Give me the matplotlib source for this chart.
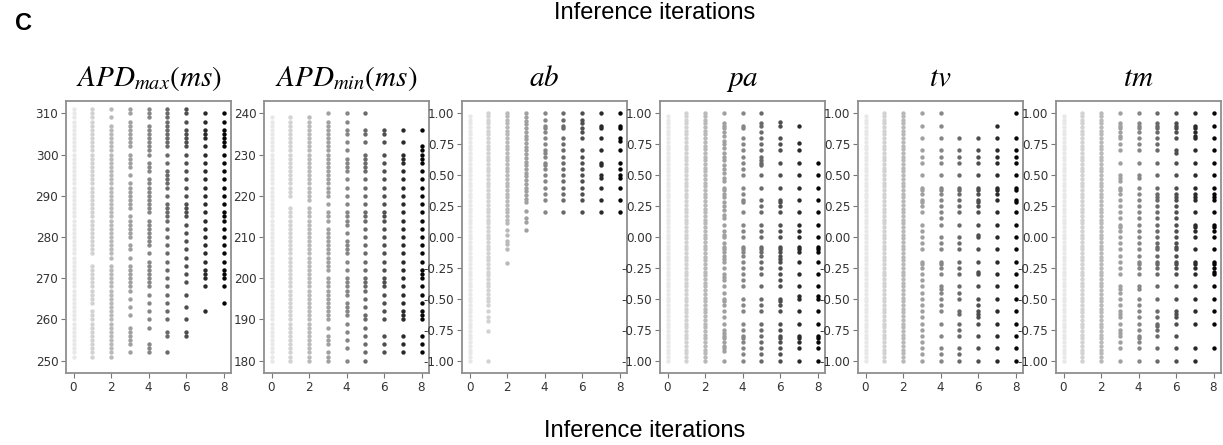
import matplotlib
matplotlib.use("Agg")
import matplotlib.pyplot as plt
from matplotlib import font_manager
import numpy as np

plt.rcParams['mathtext.fontset'] = 'stix'

# ---------------- data ----------------
iterations = [0, 1, 2, 3, 4, 5, 6, 7, 8]
titles = [r'$APD_{max}(ms)$', r'$APD_{min}(ms)$', r'$ab$', r'$pa$', r'$tv$', r'$tm$']

# dense, nearly continuous columns on the [-1, 1] scale
full_range = [-1.00, -0.97, -0.94, -0.91, -0.88, -0.85, -0.82, -0.79, -0.76, -0.73, -0.70, -0.67,
              -0.64, -0.61, -0.58, -0.55, -0.52, -0.49, -0.46, -0.43, -0.40, -0.37, -0.34, -0.31,
              -0.28, -0.25, -0.22, -0.19, -0.16, -0.13, -0.10, -0.07, -0.04, -0.01, 0.02, 0.05,
              0.08, 0.11, 0.14, 0.17, 0.20, 0.23, 0.26, 0.29, 0.32, 0.35, 0.38, 0.41, 0.44, 0.47,
              0.50, 0.53, 0.56, 0.59, 0.62, 0.65, 0.68, 0.71, 0.74, 0.77, 0.80, 0.83, 0.86, 0.89,
              0.92, 0.95, 0.98]
full_range_top = full_range + [1.00]

apdmax_c0 = list(range(251, 312))
apdmax_c1 = list(range(251, 263)) + list(range(264, 274)) + list(range(276, 312))
apdmax_c2 = list(range(251, 274)) + list(range(275, 308)) + [309, 311]
apdmax_c3 = [311, 310, 308, 307, 306, 305, 304, 303, 302, 300, 299, 298, 297, 295, 293, 292, 291, 290,
             289, 288, 287, 285, 284, 283, 282, 281, 280, 278, 277, 275, 273, 272, 271, 270, 269, 268,
             267, 265, 263, 261, 258, 257, 256, 255, 254, 252]
apdmax_c4 = [311, 310, 309, 307, 306, 305, 304, 303, 302, 301, 300, 298, 297, 296, 294, 293, 292, 291,
             290, 289, 288, 287, 286, 284, 283, 282, 281, 280, 279, 278, 276, 274, 273, 272, 271, 270,
             269, 268, 266, 264, 262, 260, 258, 254, 253, 252]
apdmax_c5 = [311, 310, 309, 308, 307, 306, 305, 304, 303, 302, 300, 298, 296, 295, 294, 293, 292, 290,
             288, 287, 286, 285, 284, 282, 280, 278, 276, 274, 272, 270, 268, 266, 264, 262, 260, 257,
             256, 252]
apdmax_c6 = [311, 310, 308, 306, 305, 304, 303, 302, 300, 298, 296, 294, 292, 290, 288, 287, 286, 285,
             283, 281, 279, 277, 275, 273, 271, 269, 266, 263, 260, 257, 256]
apdmax_c7 = [310, 308, 306, 305, 304, 302, 300, 298, 296, 294, 292, 290, 288, 286, 284, 282, 280, 278,
             276, 274, 272, 271, 270, 268, 262]
apdmax_c8 = [310, 308, 306, 305, 304, 303, 302, 300, 298, 296, 294, 292, 290, 288, 286, 285, 284, 282,
             280, 278, 276, 274, 272, 271, 270, 268, 264]
APDMAX = [apdmax_c0, apdmax_c1, apdmax_c2, apdmax_c3, apdmax_c4, apdmax_c5, apdmax_c6, apdmax_c7, apdmax_c8]

apdmin_c0 = list(range(180, 240))
apdmin_c1 = list(range(180, 218)) + list(range(220, 240))
apdmin_c2 = list(range(180, 218)) + list(range(219, 240))
apdmin_c3 = [240, 238, 237, 236, 235, 234, 233, 232, 231, 230, 229, 228, 227, 226, 225, 224, 223, 222,
             221, 220, 218, 216, 215, 214, 212, 211, 210, 209, 208, 207, 206, 205, 204, 203, 202, 200,
             199, 198, 197, 196, 195, 194, 193, 192, 191, 190, 188, 186, 185, 184, 182, 181, 180]
apdmin_c4 = [240, 238, 236, 235, 233, 231, 229, 228, 227, 226, 224, 222, 220, 218, 216, 215, 214, 213,
             211, 209, 208, 207, 206, 204, 202, 200, 199, 198, 197, 196, 194, 193, 192, 191, 189, 187,
             185, 183, 180]
apdmin_c5 = [240, 236, 235, 233, 230, 229, 228, 227, 226, 224, 222, 220, 218, 216, 215, 214, 212, 210,
             208, 206, 204, 202, 200, 199, 198, 197, 195, 193, 191, 190, 188, 186, 184, 182, 180]
apdmin_c6 = [236, 235, 233, 230, 228, 226, 224, 222, 220, 218, 216, 215, 214, 212, 210, 208, 206, 204,
             202, 200, 199, 198, 196, 194, 192, 190, 186, 184, 182]
apdmin_c7 = [236, 233, 230, 229, 228, 226, 224, 222, 220, 218, 216, 214, 212, 210, 208, 206, 204, 202,
             200, 198, 196, 194, 192, 191, 190, 186, 184, 182]
apdmin_c8 = [236, 232, 231, 230, 229, 228, 226, 224, 222, 220, 218, 216, 214, 212, 210, 208, 206, 204,
             202, 201, 200, 198, 196, 194, 192, 191, 190, 186, 184, 182]
APDMIN = [apdmin_c0, apdmin_c1, apdmin_c2, apdmin_c3, apdmin_c4, apdmin_c5, apdmin_c6, apdmin_c7, apdmin_c8]

ab_c1 = [1.00, 0.98, 0.95, 0.92, 0.89, 0.86, 0.83, 0.80, 0.77, 0.74, 0.71, 0.68, 0.65, 0.62, 0.59, 0.56,
         0.53, 0.50, 0.47, 0.44, 0.41, 0.38, 0.35, 0.32, 0.29, 0.26, 0.23, 0.20, 0.17, 0.14, 0.11, 0.08,
         0.05, 0.02, -0.01, -0.04, -0.07, -0.10, -0.13, -0.16, -0.19, -0.22, -0.25, -0.28, -0.31, -0.34,
         -0.37, -0.40, -0.43, -0.46, -0.49, -0.52, -0.55, -0.60, -0.65, -0.68, -0.76, -1.00]
ab_c2 = [1.00, 0.98, 0.95, 0.92, 0.89, 0.86, 0.83, 0.80, 0.77, 0.74, 0.71, 0.68, 0.65, 0.62, 0.59, 0.56,
         0.53, 0.50, 0.47, 0.44, 0.41, 0.38, 0.35, 0.32, 0.29, 0.26, 0.23, 0.20, 0.17, 0.14, 0.11, 0.06,
         0.02, -0.03, -0.06, -0.10, -0.21]
ab_c3 = [1.00, 0.97, 0.94, 0.91, 0.88, 0.85, 0.82, 0.79, 0.76, 0.73, 0.70, 0.67, 0.64, 0.61, 0.58, 0.55,
         0.52, 0.49, 0.46, 0.43, 0.40, 0.37, 0.34, 0.31, 0.28, 0.21, 0.15, 0.12, 0.06]
ab_c4 = [1.00, 0.95, 0.90, 0.88, 0.85, 0.80, 0.75, 0.70, 0.68, 0.65, 0.60, 0.58, 0.55, 0.50, 0.45, 0.40,
         0.35, 0.30, 0.20]
ab_c5 = [1.00, 0.95, 0.90, 0.88, 0.80, 0.75, 0.70, 0.65, 0.60, 0.55, 0.50, 0.45, 0.40, 0.35, 0.30, 0.20]
ab_c6 = [1.00, 0.95, 0.92, 0.88, 0.85, 0.80, 0.70, 0.65, 0.60, 0.55, 0.50, 0.45, 0.40, 0.35, 0.30, 0.20]
ab_c7 = [1.00, 0.90, 0.88, 0.80, 0.70, 0.60, 0.58, 0.50, 0.48, 0.40, 0.30, 0.20]
ab_c8 = [1.00, 0.90, 0.88, 0.80, 0.78, 0.70, 0.60, 0.55, 0.50, 0.48, 0.40, 0.30, 0.20]
AB = [full_range, ab_c1, ab_c2, ab_c3, ab_c4, ab_c5, ab_c6, ab_c7, ab_c8]

pa_c3 = [1.00, 0.92, 0.90, 0.88, 0.85, 0.82, 0.78, 0.75, 0.72, 0.68, 0.65, 0.62, 0.58, 0.55, 0.52, 0.48,
         0.45, 0.40, 0.38, 0.35, 0.32, 0.28, 0.25, 0.22, 0.18, 0.15, 0.10, 0.05, 0.02, 0.00, -0.05, -0.08,
         -0.10, -0.12, -0.15, -0.18, -0.20, -0.25, -0.30, -0.32, -0.35, -0.40, -0.45, -0.50, -0.52, -0.55,
         -0.60, -0.65, -0.70, -0.75, -0.78, -0.80, -0.82, -0.85, -0.88, -0.90, -0.92, -1.00]
pa_c4 = [1.00, 0.90, 0.88, 0.80, 0.75, 0.70, 0.65, 0.60, 0.55, 0.50, 0.40, 0.35, 0.30, 0.28, 0.20, 0.10,
         0.05, 0.00, -0.08, -0.10, -0.12, -0.15, -0.20, -0.25, -0.30, -0.35, -0.40, -0.50, -0.55, -0.60,
         -0.70, -0.75, -0.80, -0.82, -0.85, -0.90, -0.95, -1.00]
pa_c5 = [1.00, 0.92, 0.90, 0.85, 0.80, 0.75, 0.70, 0.65, 0.62, 0.60, 0.58, 0.50, 0.40, 0.30, 0.25, 0.20,
         0.10, 0.05, 0.00, -0.08, -0.10, -0.12, -0.15, -0.20, -0.25, -0.30, -0.40, -0.50, -0.55, -0.60,
         -0.70, -0.75, -0.80, -0.85, -0.90, -0.95, -1.00]
pa_c6 = [0.93, 0.90, 0.80, 0.75, 0.70, 0.60, 0.50, 0.40, 0.30, 0.28, 0.25, 0.20, 0.10, 0.05, 0.00, -0.08,
         -0.10, -0.12, -0.15, -0.18, -0.20, -0.25, -0.30, -0.35, -0.40, -0.50, -0.52, -0.55, -0.60, -0.70,
         -0.75, -0.80, -0.82, -0.85, -0.90, -0.95, -1.00]
pa_c7 = [0.90, 0.76, 0.70, 0.60, 0.50, 0.40, 0.30, 0.20, 0.10, 0.05, 0.00, -0.08, -0.10, -0.12, -0.20,
         -0.30, -0.40, -0.48, -0.50, -0.60, -0.70, -0.80, -0.82, -0.85, -0.90, -1.00]
pa_c8 = [0.60, 0.50, 0.40, 0.30, 0.20, 0.10, 0.00, -0.08, -0.10, -0.12, -0.20, -0.30, -0.40, -0.48, -0.50,
         -0.60, -0.70, -0.80, -0.82, -0.85, -0.90, -1.00]
PA = [full_range, full_range_top, full_range_top, pa_c3, pa_c4, pa_c5, pa_c6, pa_c7, pa_c8]

tv_c3 = [1.00, 0.90, 0.80, 0.70, 0.65, 0.60, 0.50, 0.40, 0.38, 0.35, 0.30, 0.28, 0.25, 0.20, 0.10, 0.05,
         0.00, -0.05, -0.10, -0.20, -0.22, -0.25, -0.30, -0.35, -0.40, -0.45, -0.50, -0.55, -0.60, -0.65,
         -0.70, -0.75, -0.80, -0.85, -0.90, -0.95, -1.00]
tv_c4 = [1.00, 0.90, 0.80, 0.70, 0.65, 0.60, 0.50, 0.40, 0.38, 0.35, 0.30, 0.25, 0.20, 0.15, 0.10, 0.00,
         -0.05, -0.10, -0.20, -0.22, -0.25, -0.30, -0.40, -0.42, -0.45, -0.50, -0.55, -0.60, -0.70, -0.80,
         -0.90, -0.95, -1.00]
tv_c5 = [0.80, 0.70, 0.65, 0.60, 0.50, 0.40, 0.38, 0.35, 0.30, 0.25, 0.20, 0.10, 0.00, -0.05, -0.10,
         -0.20, -0.25, -0.30, -0.40, -0.45, -0.50, -0.60, -0.62, -0.70, -0.75, -0.80, -0.90, -0.95, -1.00]
tv_c6 = [0.80, 0.70, 0.65, 0.60, 0.50, 0.40, 0.38, 0.35, 0.30, 0.28, 0.25, 0.20, 0.10, 0.02, 0.00, -0.10,
         -0.20, -0.28, -0.30, -0.40, -0.50, -0.55, -0.60, -0.62, -0.65, -0.70, -0.80, -0.90, -1.00]
tv_c7 = [0.90, 0.80, 0.70, 0.65, 0.60, 0.50, 0.40, 0.38, 0.35, 0.30, 0.20, 0.10, 0.00, -0.10, -0.20,
         -0.30, -0.40, -0.50, -0.60, -0.70, -0.80, -0.90, -1.00]
tv_c8 = [1.00, 0.80, 0.70, 0.65, 0.60, 0.50, 0.40, 0.38, 0.30, 0.28, 0.20, 0.10, 0.00, -0.10, -0.20,
         -0.30, -0.40, -0.50, -0.60, -0.70, -0.80, -0.90, -1.00]
TV = [full_range, full_range_top, full_range_top, tv_c3, tv_c4, tv_c5, tv_c6, tv_c7, tv_c8]

tm_c3 = [1.00, 0.92, 0.90, 0.88, 0.85, 0.82, 0.80, 0.75, 0.70, 0.60, 0.50, 0.48, 0.45, 0.40, 0.38, 0.35,
         0.30, 0.25, 0.20, 0.15, 0.10, 0.08, 0.05, 0.00, -0.05, -0.10, -0.15, -0.20, -0.25, -0.30, -0.40,
         -0.42, -0.45, -0.50, -0.55, -0.60, -0.62, -0.65, -0.70, -0.75, -0.78, -0.80, -0.85, -0.90, -1.00]
tm_c4 = [1.00, 0.92, 0.90, 0.88, 0.85, 0.80, 0.75, 0.70, 0.60, 0.50, 0.48, 0.40, 0.35, 0.30, 0.25, 0.20,
         0.15, 0.10, 0.05, 0.00, -0.05, -0.10, -0.15, -0.20, -0.22, -0.25, -0.30, -0.40, -0.42, -0.50,
         -0.55, -0.60, -0.65, -0.70, -0.75, -0.80, -0.82, -0.85, -0.90, -1.00]
tm_c5 = [1.00, 0.92, 0.90, 0.88, 0.85, 0.80, 0.75, 0.70, 0.60, 0.50, 0.40, 0.35, 0.32, 0.30, 0.25, 0.20,
         0.15, 0.10, 0.05, 0.00, -0.05, -0.08, -0.10, -0.15, -0.20, -0.22, -0.25, -0.30, -0.40, -0.50,
         -0.60, -0.65, -0.70, -0.72, -0.75, -0.80, -0.90, -1.00]
tm_c6 = [1.00, 0.92, 0.90, 0.88, 0.85, 0.80, 0.70, 0.68, 0.60, 0.50, 0.40, 0.35, 0.32, 0.30, 0.25, 0.20,
         0.15, 0.10, 0.05, 0.00, -0.05, -0.08, -0.10, -0.15, -0.20, -0.22, -0.25, -0.30, -0.40, -0.50,
         -0.60, -0.62, -0.65, -0.70, -0.80, -0.90, -1.00]
tm_c7 = [1.00, 0.90, 0.88, 0.85, 0.82, 0.80, 0.70, 0.60, 0.50, 0.40, 0.35, 0.32, 0.30, 0.20, 0.10, 0.08,
         0.05, 0.00, -0.10, -0.20, -0.22, -0.25, -0.30, -0.40, -0.50, -0.60, -0.70, -0.90, -1.00]
tm_c8 = [1.00, 0.90, 0.80, 0.70, 0.60, 0.50, 0.40, 0.35, 0.32, 0.30, 0.20, 0.10, 0.08, 0.05, 0.00, -0.10,
         -0.20, -0.22, -0.25, -0.28, -0.30, -0.40, -0.50, -0.60, -0.70, -0.90]
TM = [full_range, full_range_top, full_range_top, tm_c3, tm_c4, tm_c5, tm_c6, tm_c7, tm_c8]

panels = [APDMAX, APDMIN, AB, PA, TV, TM]
yticks_list = [[250, 260, 270, 280, 290, 300, 310],
               [180, 190, 200, 210, 220, 230, 240],
               [-1.0, -0.75, -0.5, -0.25, 0.0, 0.25, 0.5, 0.75, 1.0]] + \
              [[-1.0, -0.75, -0.5, -0.25, 0.0, 0.25, 0.5, 0.75, 1.0]] * 3
xticks = [0, 2, 4, 6, 8]

# ---------------- styling ----------------
# pick a narrow sans font for the tick labels if one is installed
available = {f.name: f for f in font_manager.fontManager.ttflist}
tick_family, tick_stretch = 'DejaVu Sans', 'normal'
for f in font_manager.fontManager.ttflist:
    if f.name == 'DejaVu Sans' and str(f.stretch) in ('condensed', 'semi-condensed', '75', '87'):
        tick_family, tick_stretch = 'DejaVu Sans', 'condensed'
        break
else:
    for name in ['Liberation Sans Narrow', 'Roboto Condensed', 'Open Sans Condensed', 'Roboto']:
        if name in available:
            tick_family = name
            break

col_colors = ['#e8e8e8', '#d2d2d2', '#b9b9b9', '#a0a0a0', '#868686',
              '#6a6a6a', '#4e4e4e', '#2a2a2a', '#050505']
W, H = 1223, 445
fig = plt.figure(figsize=(W / 100, H / 100), dpi=100)

lefts = [66, 264, 462, 660, 858, 1056]
ax_w, ax_top, ax_bot = 165, 101, 373

for i, (data, title, yt) in enumerate(zip(panels, titles, yticks_list)):
    ax = fig.add_axes([lefts[i] / W, 1 - ax_bot / H, ax_w / W, (ax_bot - ax_top) / H])
    for it, vals in zip(iterations, data):
        ax.scatter([it] * len(vals), vals, s=10, color=col_colors[it], linewidths=0, zorder=2)
    ax.set_xlim(-0.4, 8.4)
    lo, hi = min(yt), max(yt)
    pad = (hi - lo) * 0.05
    ax.set_ylim(lo - pad, hi + pad)
    ax.set_xticks(xticks)
    ax.set_yticks(yt)
    if i >= 2:
        ax.set_yticklabels(['%.2f' % v for v in yt])
    for lab in ax.get_xticklabels() + ax.get_yticklabels():
        lab.set_fontfamily(tick_family)
        lab.set_fontstretch(tick_stretch)
        lab.set_fontsize(9.5)
        lab.set_color('#333333')
    ax.tick_params(length=3.5, width=0.8, color='#777777', pad=2)
    for sp in ax.spines.values():
        sp.set_color('#8f8f8f')
        sp.set_linewidth(1.3)
    ax.set_title(title, fontsize=21, pad=11)

fig.text(645 / W, 1 - 431 / H, 'Inference iterations', ha='center', va='center',
         fontsize=17, family=['Liberation Sans', 'DejaVu Sans'])
fig.text(655 / W, 1 - 13 / H, 'Inference iterations', ha='center', va='center',
         fontsize=17, family=['Liberation Sans', 'DejaVu Sans'])
fig.text(23 / W, 1 - 23 / H, 'C', ha='center', va='center', fontsize=17, fontweight='bold',
         family=['Liberation Sans', 'DejaVu Sans'])

fig.savefig('out.png', dpi=100)
